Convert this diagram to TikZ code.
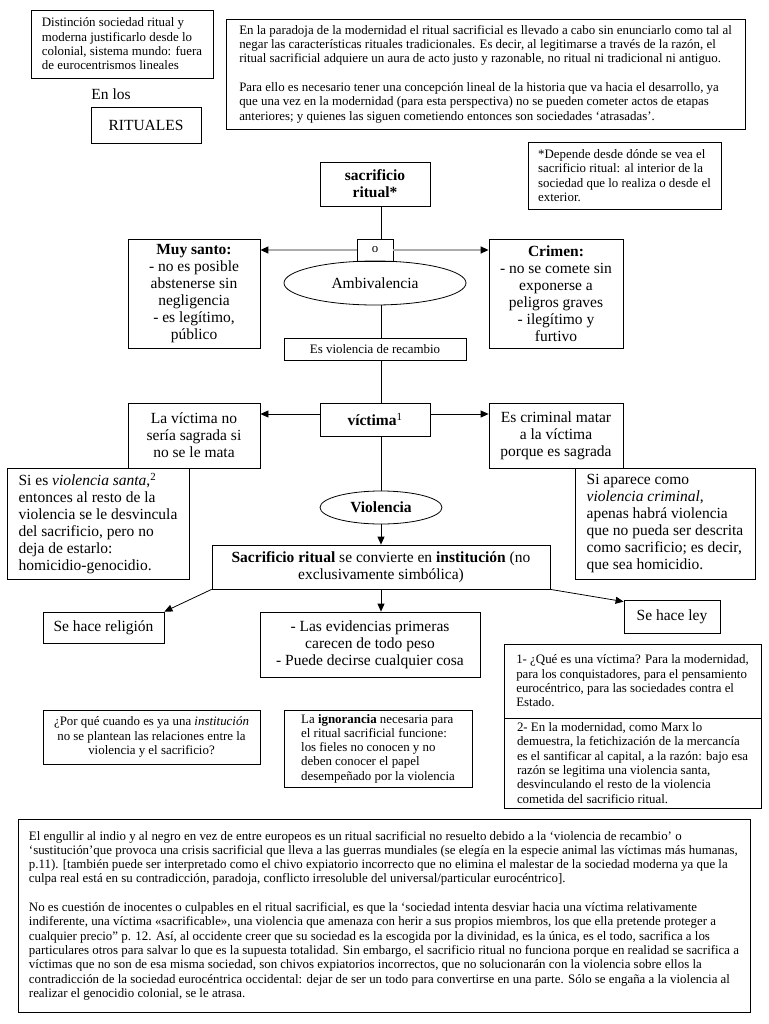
\documentclass[tikz,border=0pt]{standalone}
\usepackage{fontspec}
\setmainfont{Liberation Serif}
\usetikzlibrary{shapes.geometric,arrows.meta}
\newcommand\fsS{\fontsize{12.9}{14.3}\selectfont}
\newcommand\fsL{\fontsize{15.5}{17}\selectfont}
\begin{document}
\begin{tikzpicture}[x=1pt,y=-1pt,
  box/.style={draw, rectangle, line width=0.8pt, inner sep=0pt},
  elli/.style={draw, ellipse, line width=0.8pt, inner sep=0pt},
  conn/.style={line width=0.8pt},
  arr/.style={line width=0.8pt, -{Triangle[length=8pt,width=7pt]}},
  garr/.style={line width=1.3pt, draw=gray!65, -{Triangle[length=8pt,width=7pt,color=black]}}]
\useasboundingbox (0,0) rectangle (768,1024);
\coordinate (ax) at (381,0);

% top area
\node[box, minimum width=182pt, minimum height=68pt, align=left, font=\fsS] (tl) at (122,44)
 {Distinción sociedad ritual y\\moderna justificarlo desde lo\\colonial, sistema mundo: fuera\\de eurocentrismos lineales};
\node[font=\fsL, inner sep=0pt] (enlos) at (111,94) {En los};
\node[box, minimum width=110pt, minimum height=36pt, font=\fsL] (rit) at (146,125) {RITUALES};
\node[box, minimum width=519pt, minimum height=110pt, align=left, font=\fsS] (tr) at (485.5,74)
 {En la paradoja de la modernidad el ritual sacrificial es llevado a cabo sin enunciarlo como tal al\\
  negar las características rituales tradicionales. Es decir, al legitimarse a través de la razón, el\\
  ritual sacrificial adquiere un aura de acto justo y razonable, no ritual ni tradicional ni antiguo.\\[14.3pt]
  Para ello es necesario tener una concepción lineal de la historia que va hacia el desarrollo, ya\\
  que una vez en la modernidad (para esta perspectiva) no se pueden cometer actos de etapas\\
  anteriores; y quienes las siguen cometiendo entonces son sociedades ‘atrasadas’.};
\node[box, minimum width=193pt, minimum height=67pt, align=left, font=\fsS] (note) at (624.5,175.5)
 {*Depende desde dónde se vea el\\sacrificio ritual: al interior de la\\sociedad que lo realiza o desde el\\exterior.};

% central column
\node[box, minimum width=110pt, minimum height=44pt, align=center, font=\fsL\bfseries] (sac) at (375,184) {sacrificio\\ritual*};
\node[box, minimum width=36pt, minimum height=22pt, font=\fsS] (o) at (375,250) {o};
\node[elli, minimum width=182pt, minimum height=44pt, font=\fsL] (amb) at (375,283) {Ambivalencia};
\node[box, minimum width=132pt, minimum height=109pt, align=center, font=\fsL] (ms) at (194,293.5)
 {\textbf{Muy santo:}\\- no es posible\\abstenerse sin\\negligencia\\- es legítimo,\\público};
\node[box, minimum width=134pt, minimum height=109pt, align=center, font=\fsL] (cr) at (556,293.5)
 {\textbf{Crimen:}\\- no se comete sin\\exponerse a\\peligros graves\\- ilegítimo y\\furtivo};
\node[box, minimum width=182pt, minimum height=22pt, font=\fsS] (rec) at (375,349) {Es violencia de recambio};
\node[box, minimum width=110pt, minimum height=33pt, font=\fsL] (vic) at (375,419.5) {\textbf{víctima}\textsuperscript{1}};
\node[box, minimum width=132pt, minimum height=65pt, align=center, font=\fsL] (lv) at (194,435.5)
 {La víctima no\\sería sagrada si\\no se le mata};
\node[box, minimum width=134pt, minimum height=65pt, align=center, font=\fsL] (cri) at (556,435.5)
 {Es criminal matar\\a la víctima\\porque es sagrada};
\node[box, minimum width=182pt, minimum height=111pt, align=left, font=\fsL] (sis) at (98,523.5)
 {Si es \textit{violencia santa},\textsuperscript{2}\\entonces al resto de la\\violencia se le desvincula\\del sacrificio, pero no\\deja de estarlo:\\homicidio-genocidio.};
\node[box, minimum width=180pt, minimum height=111pt, align=left, font=\fsL] (sia) at (665,523.5)
 {Si aparece como\\\textit{violencia criminal},\\apenas habrá violencia\\que no pueda ser descrita\\como sacrificio; es decir,\\que sea homicidio.};
\node[elli, minimum width=122pt, minimum height=33pt, font=\fsL\bfseries] (vio) at (381,507.5) {Violencia};
\node[box, minimum width=338pt, minimum height=44pt, align=center, font=\fsL] (sr) at (381,567)
 {\textbf{Sacrificio ritual} se convierte en \textbf{institución} (no\\exclusivamente simbólica)};

% lower row
\node[box, minimum width=121pt, minimum height=31pt, font=\fsL] (rel) at (103.5,627.5) {Se hace religión};
\node[box, minimum width=220pt, minimum height=65pt, align=center, font=\fsL] (ev) at (370,644.5)
 {- Las evidencias primeras\\carecen de todo peso\\- Puede decirse cualquier cosa};
\node[box, minimum width=96pt, minimum height=33pt, font=\fsL] (ley) at (672,616.5) {Se hace ley};
\node[box, minimum width=257pt, minimum height=74pt, align=left, font=\fsS] (q1) at (632.5,681)
 {1- ¿Qué es una víctima? Para la modernidad,\\para los conquistadores, para el pensamiento\\eurocéntrico, para las sociedades contra el\\Estado.};
\node[box, minimum width=257pt, minimum height=90pt, align=left, font=\fsS] (q2) at (632.5,763)
 {2- En la modernidad, como Marx lo\\demuestra, la fetichización de la mercancía\\es el santificar al capital, a la razón: bajo esa\\razón se legitima una violencia santa,\\desvinculando el resto de la violencia\\cometida del sacrificio ritual.};
\node[box, minimum width=217pt, minimum height=54pt, align=center, font=\fsS] (pq) at (151.5,737)
 {¿Por qué cuando es ya una \textit{institución}\\no se plantean las relaciones entre la\\violencia y el sacrificio?};
\node[box, minimum width=188pt, minimum height=77pt, align=left, font=\fsS] (ig) at (378,748.5)
 {La \textbf{ignorancia} necesaria para\\el ritual sacrificial funcione:\\los fieles no conocen y no\\deben conocer el papel\\desempeñado por la violencia};

% bottom paragraph
\node[box, minimum width=732pt, minimum height=193pt, align=left, font=\fsS] (bot) at (384,915.5)
 {El engullir al indio y al negro en vez de entre europeos es un ritual sacrificial no resuelto debido a la ‘violencia de recambio’ o\\
  ‘sustitución’que provoca una crisis sacrificial que lleva a las guerras mundiales (se elegía en la especie animal las víctimas más humanas,\\
  p.11). [también puede ser interpretado como el chivo expiatorio incorrecto que no elimina el malestar de la sociedad moderna ya que la\\
  culpa real está en su contradicción, paradoja, conflicto irresoluble del universal/particular eurocéntrico].\\[14.3pt]
  No es cuestión de inocentes o culpables en el ritual sacrificial, es que la ‘sociedad intenta desviar hacia una víctima relativamente\\
  indiferente, una víctima «sacrificable», una violencia que amenaza con herir a sus propios miembros, los que ella pretende proteger a\\
  cualquier precio” p. 12. Así, al occidente creer que su sociedad es la escogida por la divinidad, es la única, es el todo, sacrifica a los\\
  particulares otros para salvar lo que es la supuesta totalidad. Sin embargo, el sacrificio ritual no funciona porque en realidad se sacrifica a\\
  víctimas que no son de esa misma sociedad, son chivos expiatorios incorrectos, que no solucionarán con la violencia sobre ellos la\\
  contradicción de la sociedad eurocéntrica occidental: dejar de ser un todo para convertirse en una parte. Sólo se engaña a la violencia al\\
  realizar el genocidio colonial, se le atrasa.};

% connectors
\draw[conn] (sac.south -| ax) -- (o.north -| ax);
\draw[garr] (o.west) -- (o.west -| ms.east);
\draw[garr] (o.east) -- (o.east -| cr.west);
\draw[conn] (amb.south -| ax) -- (rec.north -| ax);
\draw[conn] (rec.south -| ax) -- (vic.north -| ax);
\draw[arr] ([yshift=5.5pt]vic.west) -- ([yshift=5.5pt]vic.west -| lv.east);
\draw[arr] ([yshift=5.5pt]vic.east) -- ([yshift=5.5pt]vic.east -| cri.west);
\draw[conn] (vic.south -| ax) -- (vio.north);
\draw[arr] (vio.south) -- (sr.north);
\draw[arr] (sr.south -| ax) -- (ev.north -| ax);
\draw[arr] (sr.south west) -- (rel.north east);
\draw[arr] (sr.south east) -- ([yshift=-2pt]ley.north west);
\end{tikzpicture}
\end{document}
